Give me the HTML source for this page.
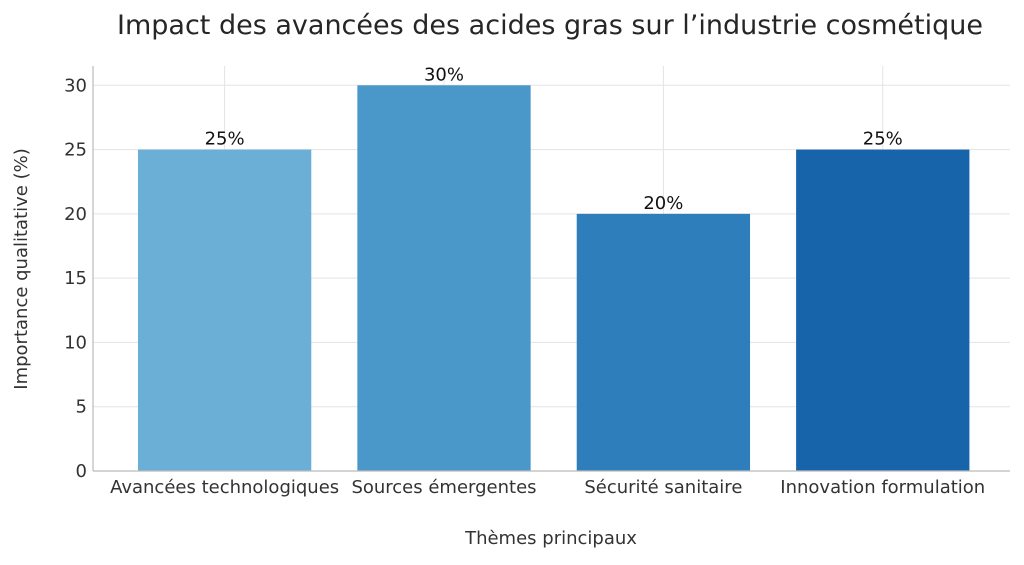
<!DOCTYPE html>
<html><head><meta charset="utf-8"><style>
body{margin:0;background:#fff;}
svg text{font-family:"DejaVu Sans","Liberation Sans",sans-serif;}
</style></head><body>
<svg id="chart" width="1024" height="560" xmlns="http://www.w3.org/2000/svg">
<text x="550" y="34" text-anchor="middle" font-size="27" fill="#262626">Impact des avancées des acides gras sur l’industrie cosmétique</text>
<g id="grid"></g><g id="bars"></g><g id="axes"></g>
<text x="551" y="544" text-anchor="middle" font-size="18" fill="#333">Thèmes principaux</text>
<text transform="translate(27,269) rotate(-90)" text-anchor="middle" font-size="18" fill="#333">Importance qualitative (%)</text>
</svg>
<script>
const categories=["Avancées technologiques","Sources émergentes","Sécurité sanitaire","Innovation formulation"];
const values=[25,30,20,25];
const colors=["#6baed6","#4a98c9","#2f7ebc","#1764ab"];
const yTicks=[0,5,10,15,20,25,30];
const NS="http://www.w3.org/2000/svg";
const L=93,R=1010,T=66,B=471;
const xMin=-0.6,xMax=3.58,yMax=31.5;
const x=i=>L+(i-xMin)/(xMax-xMin)*(R-L);
const y=v=>B-v/yMax*(B-T);
const bw=0.79*(R-L)/(xMax-xMin);
function mk(tag,attrs,parent){const e=document.createElementNS(NS,tag);for(const k in attrs)e.setAttribute(k,attrs[k]);document.getElementById(parent).appendChild(e);return e;}
yTicks.forEach(t=>{
  const g=mk('line',{x1:L,x2:R,y1:y(t),y2:y(t),stroke:'#e3e3e3','stroke-width':1},'grid');
  
  
  const tx=mk('text',{x:L-6,y:y(t)+6,'text-anchor':'end','font-size':18,fill:'#333'},'axes');
  tx.textContent=t;
  
  
});
categories.forEach((c,i)=>{
  const g=mk('line',{x1:x(i),x2:x(i),y1:T,y2:B,stroke:'#e3e3e3','stroke-width':1},'grid');
  
  
  const r=mk('rect',{x:x(i)-bw/2,y:y(values[i]),width:bw,height:B-y(values[i]),fill:colors[i]},'bars');
  
  
  const v=mk('text',{x:x(i),y:y(values[i])-5,'text-anchor':'middle','font-size':18,fill:'#111'},'bars');
  v.textContent=values[i]+'%';
  
  
  const l=mk('text',{x:x(i),y:B+22,'text-anchor':'middle','font-size':18,fill:'#333'},'axes');
  l.textContent=c;
  
  
});
const ya=mk('line',{x1:L,x2:L,y1:T,y2:B,stroke:'#bbb','stroke-width':1.2},'axes');


const xa=mk('line',{x1:L,x2:R,y1:B,y2:B,stroke:'#bbb','stroke-width':1.2},'axes');


</script>
</body></html>
